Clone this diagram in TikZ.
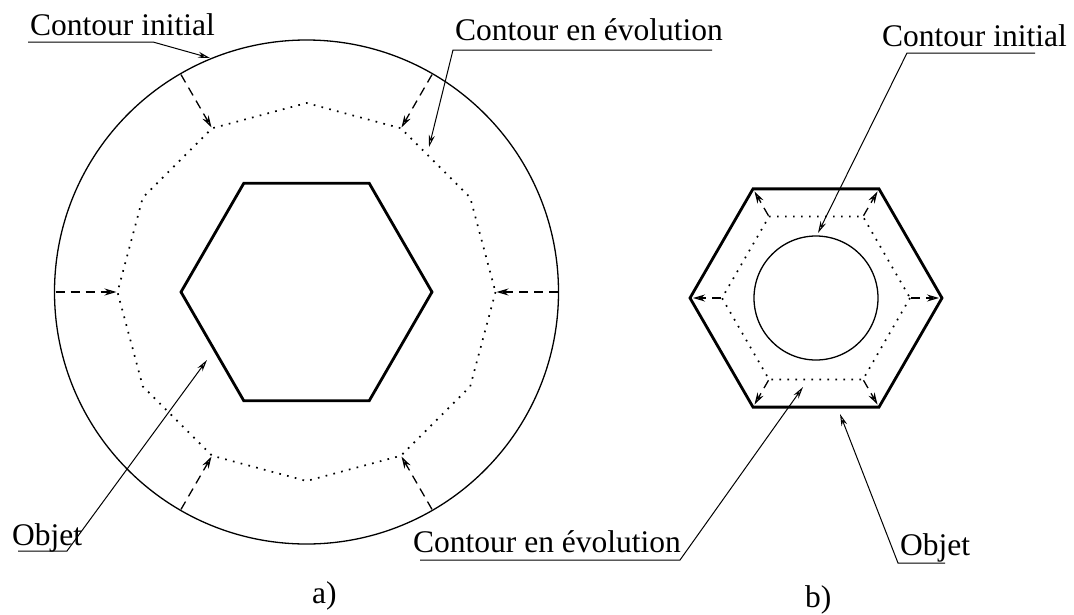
\documentclass[tikz,border=0pt]{standalone}
\usepackage{fontspec}
\setmainfont{Liberation Serif}
\usetikzlibrary{arrows.meta}
\begin{document}
\begin{tikzpicture}[x=1pt,y=-1pt,
  lbl/.style={font=\fontsize{31.5}{38}\selectfont, inner sep=0pt, anchor=base west},
  obj/.style={line width=2.8pt, line join=miter},
  contour/.style={line width=1.3pt},
  evol/.style={line width=1.7pt, dash pattern=on 1.7pt off 6.3pt},
  move/.style={line width=1.3pt, dash pattern=on 9pt off 6pt, -{Stealth[open,length=12pt,width=7pt]}},
  leader/.style={line width=1pt, -{Stealth[open,length=12pt,width=6pt]}}]
\useasboundingbox (0,0) rectangle (1074,614);
% ---------- a) ----------
\coordinate (C) at (306.5,292);
\draw[contour] (C) circle[radius=252pt];
\draw[obj] ([shift={(C)}]0:125.5) \foreach \a in {60,120,...,300}{ -- ([shift={(C)}]\a:125.5)} -- cycle;
\draw[evol] ([shift={(C)}]0:189) \foreach \a in {30,60,...,330}{ -- ([shift={(C)}]\a:189)} -- cycle;
\foreach \a in {0,60,...,300}
  \draw[move] ([shift={(C)}]\a:251) -- ([shift={(C)}]\a:190);
% ---------- b) ----------
\coordinate (D) at (816,298);
\draw[obj] ([shift={(D)}]0:126) \foreach \a in {60,120,...,300}{ -- ([shift={(D)}]\a:126)} -- cycle;
\draw[contour] (D) circle[radius=62pt];
\draw[evol] ([shift={(D)}]0:94) \foreach \a in {60,120,...,300}{ -- ([shift={(D)}]\a:94)} -- cycle;
\foreach \a in {0,60,...,300}
  \draw[move] ([shift={(D)}]\a:95) -- ([shift={(D)}]\a:123);
% ---------- labels ----------
\node[lbl] (ciA) at (30,35) {Contour initial};
\coordinate (ciAu) at (28,42); \coordinate (ciAk) at (153,42); \coordinate (ciAt) at (210,58);
\draw[leader] (ciAu) -- (ciAk) -- (ciAt);

\node[lbl] (ceA) at (455,40) {Contour en évolution};
\coordinate (ceAu) at (712,50); \coordinate (ceAk) at (453,50); \coordinate (ceAt) at (429,147);
\draw[leader] (ceAu) -- (ceAk) -- (ceAt);

\node[lbl] (ciB) at (882,46) {Contour initial};
\coordinate (ciBu) at (1035,53); \coordinate (ciBk) at (907,53); \coordinate (ciBt) at (818,233);
\draw[leader] (ciBu) -- (ciBk) -- (ciBt);

\node[lbl] (obA) at (12,545) {Objet};
\coordinate (obAu) at (18,551); \coordinate (obAk) at (67,551); \coordinate (obAt) at (207,360);
\draw[leader] (obAu) -- (obAk) -- (obAt);

\node[lbl] (ceB) at (413,552) {Contour en évolution};
\coordinate (ceBu) at (420,560); \coordinate (ceBk) at (680,560); \coordinate (ceBt) at (803,387);
\draw[leader] (ceBu) -- (ceBk) -- (ceBt);

\node[lbl] (obB) at (900,555) {Objet};
\coordinate (obBu) at (945,563); \coordinate (obBk) at (898,563); \coordinate (obBt) at (840,414);
\draw[leader] (obBu) -- (obBk) -- (obBt);

\node[lbl] (capA) at (312,603) {a)};
\node[lbl] (capB) at (805,607) {b)};
\end{tikzpicture}
\end{document}
